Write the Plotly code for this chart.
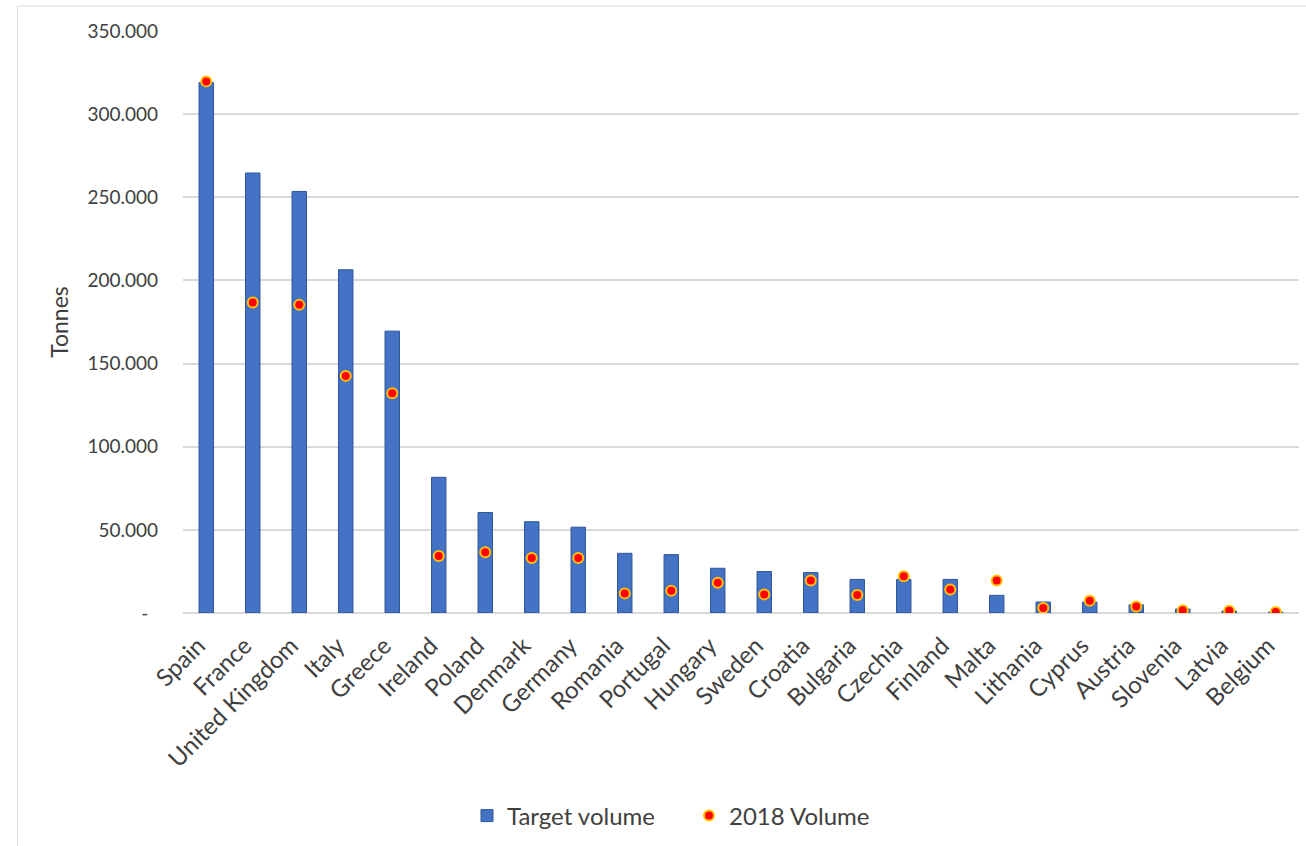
import plotly.graph_objects as go

countries = ["Spain", "France", "United Kingdom", "Italy", "Greece", "Ireland", "Poland",
             "Denmark", "Germany", "Romania", "Portugal", "Hungary", "Sweden", "Croatia",
             "Bulgaria", "Czechia", "Finland", "Malta", "Lithania", "Cyprus", "Austria",
             "Slovenia", "Latvia", "Belgium"]
target_volume = [319000, 264600, 253500, 206400, 169500, 81600, 60400, 54900, 51600, 35900,
                 35100, 26900, 24900, 24300, 20200, 20200, 20200, 10600, 6600, 6600, 4900,
                 2400, 1200, 500]
volume_2018 = [319700, 186700, 185300, 142600, 132200, 34300, 36500, 33100, 33100, 11800,
               13400, 18200, 11200, 19500, 10800, 22100, 14200, 19600, 3000, 7400, 3900,
               1600, 1300, 600]
y_ticks = [0, 50000, 100000, 150000, 200000, 250000, 300000, 350000]
y_tick_labels = ["-\u00a0\u00a0", "50.000", "100.000", "150.000", "200.000", "250.000",
                 "300.000", "350.000"]

FONT = "Lato"
TXT = "#404040"

fig = go.Figure()
fig.add_trace(go.Bar(
    x=countries, y=target_volume, name="Target volume",
    width=0.31,
    marker=dict(color="#4472C4", line=dict(color="#2F5597", width=1)),
))
fig.add_trace(go.Scatter(
    x=countries, y=volume_2018, name="2018 Volume", mode="markers",
    marker=dict(symbol="circle", size=10, color="#FF0000",
                line=dict(color="#FFC000", width=2)),
))

# paper coords helpers (plot area: x 183..1299, y 31..613)
def px_x(px):
    return (px - 183) / 1116.0

def px_y(py):
    return (613 - py) / 582.0

fig.update_layout(
    width=1306, height=846,
    margin=dict(l=183, r=7, t=31, b=233),
    paper_bgcolor="white", plot_bgcolor="white",
    font=dict(family=FONT, color=TXT),
    showlegend=True,
    legend=dict(orientation="h", x=px_x(467), xanchor="left", y=px_y(816), yanchor="middle",
                font=dict(family=FONT, size=24, color=TXT),
                entrywidth=177, entrywidthmode="pixels",
                bgcolor="rgba(0,0,0,0)"),
    shapes=[
        dict(type="line", xref="paper", yref="paper", x0=px_x(17.5), x1=px_x(1320),
             y0=px_y(6), y1=px_y(6), line=dict(color="#D9D9D9", width=1)),
        dict(type="line", xref="paper", yref="paper", x0=px_x(17.5), x1=px_x(17.5),
             y0=px_y(6), y1=px_y(860), line=dict(color="#D9D9D9", width=1)),
    ],
)
fig.update_xaxes(
    type="category", range=[-0.5, len(countries) - 0.5], tickangle=-45,
    showgrid=False, showline=False, zeroline=False,
    tickfont=dict(family=FONT, size=24, color=TXT), ticks="",
    ticklabelstandoff=13, ticklabelshift=-8,
)
fig.update_yaxes(
    range=[0, 350000], tickvals=y_ticks, ticktext=y_tick_labels,
    showgrid=True, gridcolor="#D9D9D9", gridwidth=1.5,
    zeroline=True, zerolinecolor="#D9D9D9", zerolinewidth=1.5,
    showline=False, ticks="", ticklabelstandoff=24,
    tickfont=dict(family=FONT, size=19, color=TXT),
    title=dict(text="Tonnes", font=dict(family=FONT, size=23, color=TXT), standoff=12),
)

fig.write_html("out.html")
